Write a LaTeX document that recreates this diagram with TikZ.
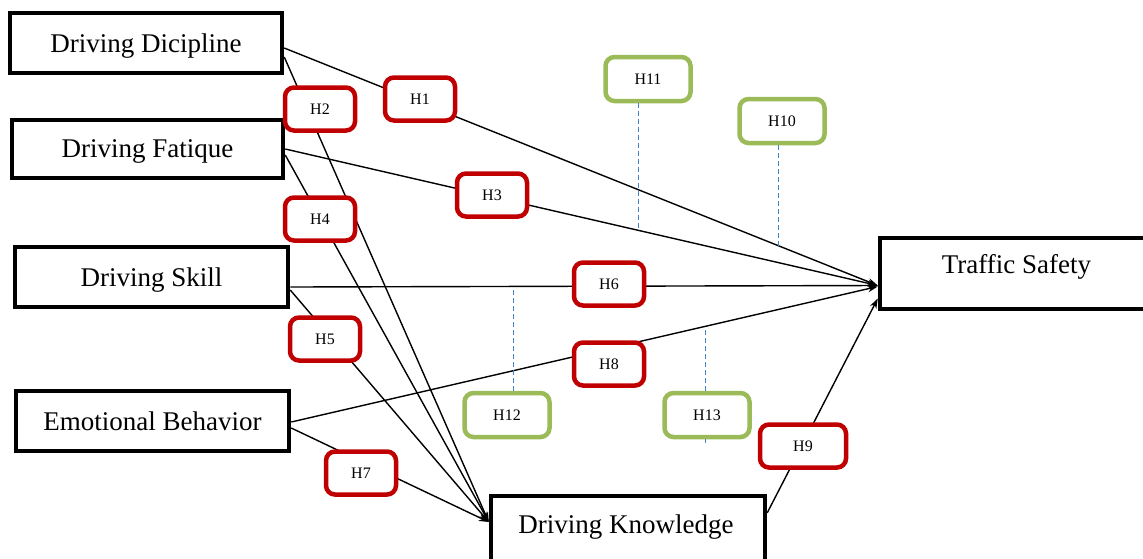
\documentclass[tikz,border=0pt]{standalone}
\usepackage{fontspec}
\setmainfont{Liberation Serif}
\usetikzlibrary{arrows.meta,calc}
\definecolor{hr}{RGB}{192,0,0}
\definecolor{hg}{RGB}{155,187,89}
\definecolor{db}{RGB}{70,130,200}
\begin{document}
\begin{tikzpicture}[x=1pt,y=-1pt,
  bigbox/.style={draw=black,line width=4.5pt,fill=white,inner sep=0pt,text depth=0pt,font=\fontsize{27}{30}\selectfont},
  bigtext/.style={inner sep=0pt,anchor=base,font=\fontsize{27}{30}\selectfont},
  hred/.style={draw=hr,line width=4.5pt,rounded corners=9pt,fill=white,minimum width=70pt,minimum height=43pt,inner sep=0pt,font=\fontsize{16}{18}\selectfont},
  hgreen/.style={hred,draw=hg,minimum width=85pt,minimum height=44pt},
  conn/.style={line width=1.4pt,-{Stealth[length=10pt,width=7pt]}},
  modline/.style={draw=db,line width=1pt,dash pattern=on 5pt off 3pt}]
\useasboundingbox (0,0) rectangle (1143,558);
\clip (0,0) rectangle (1143,558);
% big boxes
\node[bigbox,minimum width=272pt,minimum height=60pt] (DD) at (146,43) {Driving Dicipline};
\node[bigbox,minimum width=271pt,minimum height=58pt] (DF) at (147.5,149) {Driving Fatique};
\node[bigbox,minimum width=273pt,minimum height=60pt] (DS) at (151.5,277) {Driving Skill};
\node[bigbox,minimum width=273pt,minimum height=60pt] (EB) at (152.5,421) {Emotional Behavior};
\node[bigbox,minimum width=280pt,minimum height=71pt] (TS) at (1020,273.5) {};
\node[bigtext] (TSt) at (1016.5,273) {Traffic Safety};
\node[bigbox,minimum width=274pt,minimum height=94pt] (DK) at (628,543) {};
\node[bigtext] (DKt) at (626,533) {Driving Knowledge};
% connectors
\draw[conn] ([yshift=-5pt]DD.east) -- ([yshift=-12pt]TS.west);
\draw[conn] ([yshift=-14pt]DD.east) -- ([yshift=21pt]DK.west);
\draw[conn] (DF.east) -- ([yshift=-12pt]TS.west);
\draw[conn] ([yshift=-6pt]DF.east) -- ([yshift=21pt]DK.west);
\draw[conn] ([yshift=-10pt]DS.east) -- ([yshift=-12pt]TS.west);
\draw[conn] ([yshift=-13pt]DS.east) -- ([yshift=21pt]DK.west);
\draw[conn] ([yshift=-1pt]EB.east) -- ([yshift=-13pt]TS.west);
\draw[conn] ([yshift=-7pt]EB.east) -- ([yshift=21pt]DK.west);
\draw[conn] ([yshift=-19pt]DK.north east) -- ([yshift=-25pt]TS.west);
% hypothesis boxes
\node[hred] (H1) at (420,99) {H1};
\node[hred] (H2) at (320,109) {H2};
\node[hred] (H3) at (492,195) {H3};
\node[hred] (H4) at (320,219) {H4};
\node[hred] (H5) at (325,339) {H5};
\node[hred] (H6) at (609,284) {H6};
\node[hred] (H7) at (361,473) {H7};
\node[hred] (H8) at (609,364) {H8};
\node[hred,minimum width=86pt] (H9) at (803,446) {H9};
\node[hgreen] (H11) at (648,79) {H11};
\node[hgreen] (H10) at (782,121) {H10};
\node[hgreen] (H12) at (507,415) {H12};
\node[hgreen] (H13) at (707,415) {H13};
% moderation lines
\coordinate (m11) at (638,231);
\coordinate (m10) at (778,246);
\coordinate (m12) at (513,287);
\coordinate (m13) at (705,327);
\coordinate (m13b) at (705,443);
\draw[modline] (m11 |- H11.south) -- (m11);
\draw[modline] (m10 |- H10.south) -- (m10);
\draw[modline] (m12 |- H12.north) -- (m12);
\draw[modline] (m13 |- H13.north) -- (m13);
\draw[modline] (m13b |- H13.south) -- (m13b);
\end{tikzpicture}
\end{document}
